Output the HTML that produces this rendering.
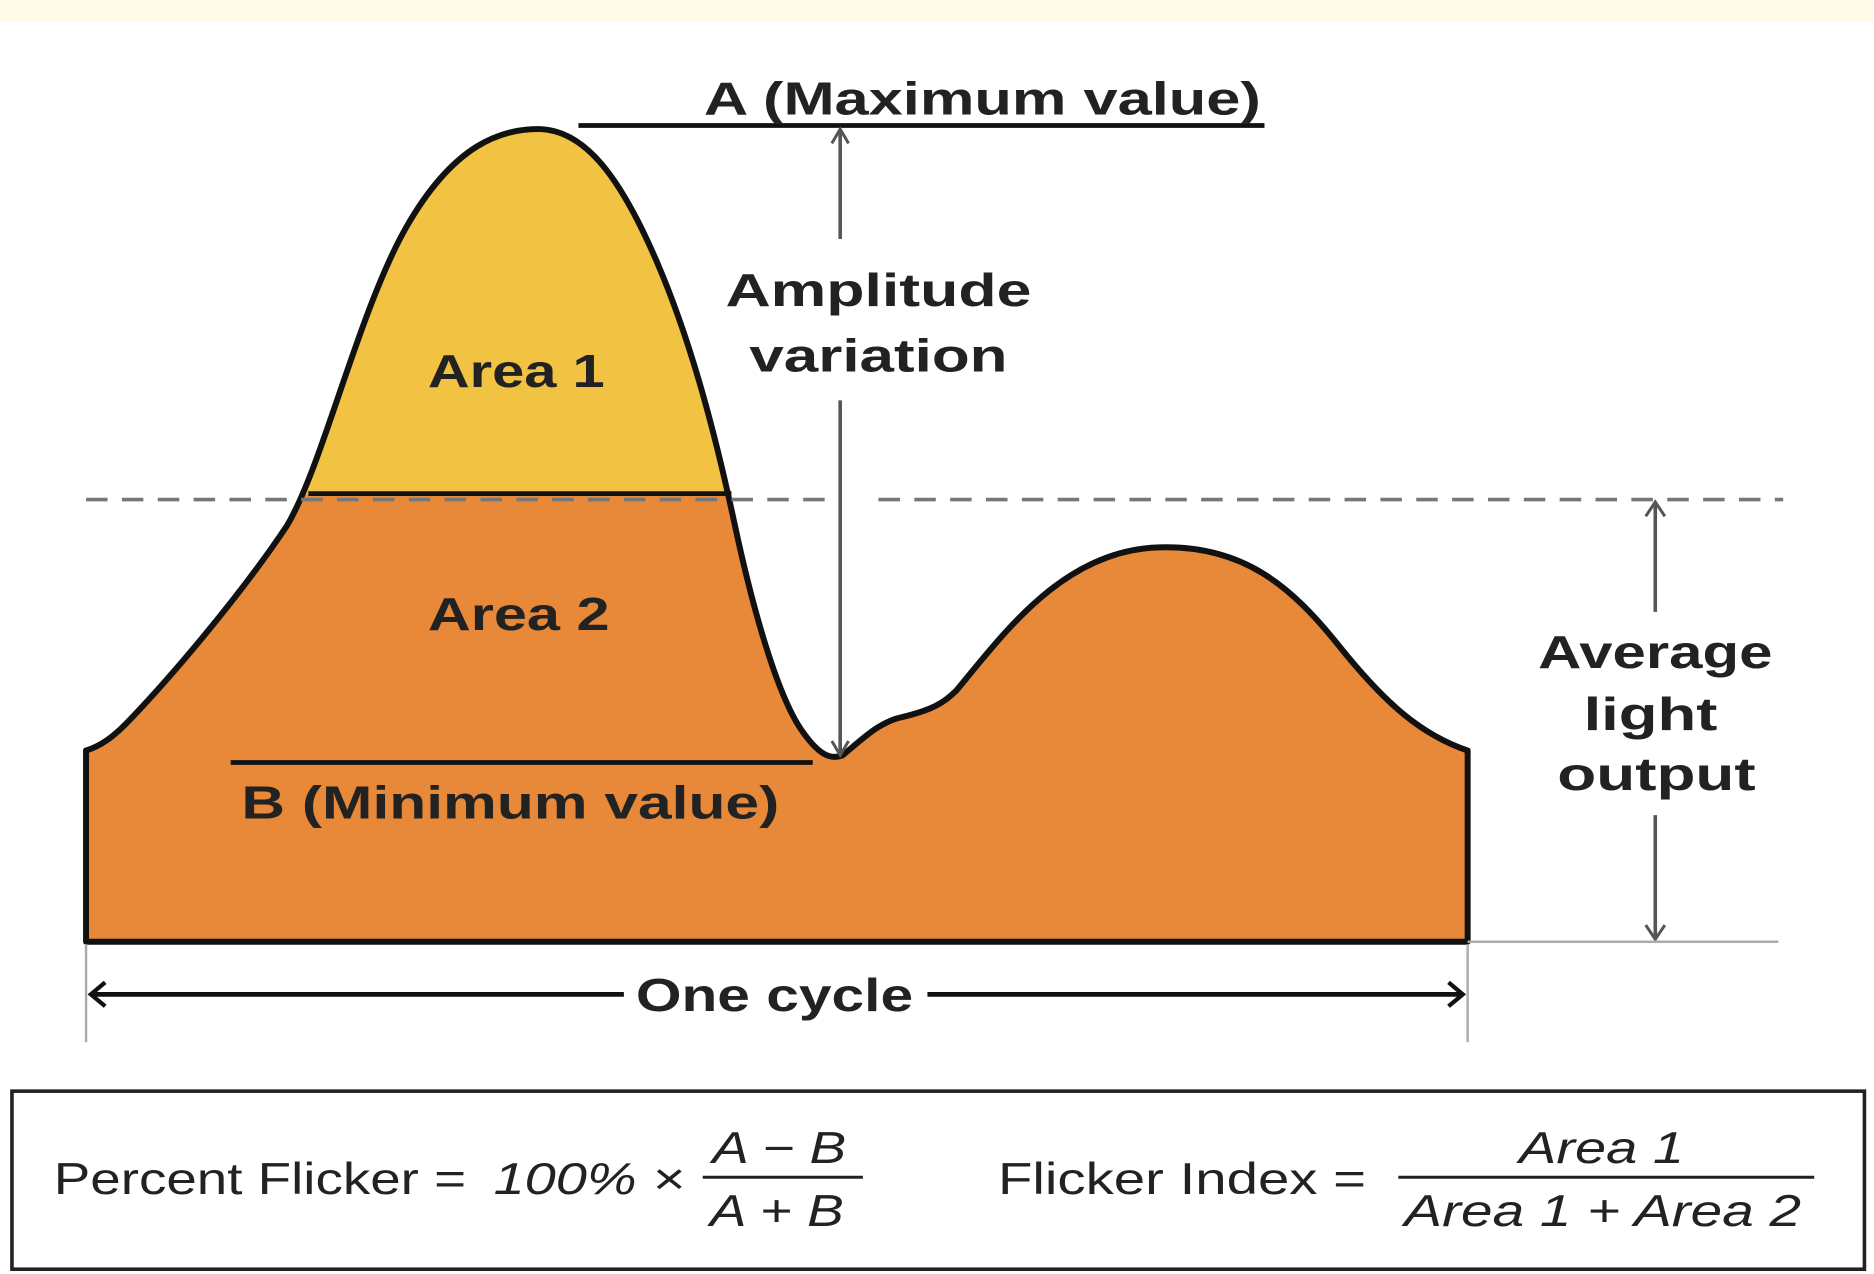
<!DOCTYPE html>
<html><head><meta charset="utf-8"><style>
html,body{margin:0;padding:0;background:#fff;}
svg{display:block;}
text{font-family:"Liberation Sans",sans-serif;fill:#222;}
.b{font-weight:bold;font-size:39px;}
.f{font-size:37px;}
</style></head><body>
<svg width="1874" height="1274" viewBox="0 0 1568 1066" preserveAspectRatio="none">
<rect x="0" y="0" width="1568" height="18" fill="#fffbe8"/>
<defs>
<clipPath id="top"><rect x="0" y="0" width="1568" height="414"/></clipPath>
</defs>
<path d="M72,628 C85,624 95,616 105,606 C140,570 200,500 240,440 C270,390 300,260 340,190 C380,120 420,108 450,108 C490,108 520,150 550,220 C580,290 600,370 615,440 C630,510 650,580 670,610 C685,632 695,636 705,632 C720,620 735,604 755,600 C780,594 790,588 800,578 C840,530 890,460 970,458 C1040,456 1080,490 1120,540 C1160,590 1190,615 1228,628 L1228,788 L72,788 Z" fill="#e8893a"/>
<g clip-path="url(#top)">
<path d="M72,628 C85,624 95,616 105,606 C140,570 200,500 240,440 C270,390 300,260 340,190 C380,120 420,108 450,108 C490,108 520,150 550,220 C580,290 600,370 615,440 C630,510 650,580 670,610 L670,788 L72,788 Z" fill="#f2c242"/>
</g>
<path d="M72,628 C85,624 95,616 105,606 C140,570 200,500 240,440 C270,390 300,260 340,190 C380,120 420,108 450,108 C490,108 520,150 550,220 C580,290 600,370 615,440 C630,510 650,580 670,610 C685,632 695,636 705,632 C720,620 735,604 755,600 C780,594 790,588 800,578 C840,530 890,460 970,458 C1040,456 1080,490 1120,540 C1160,590 1190,615 1228,628 L1228,788 L72,788 Z" fill="none" stroke="#111" stroke-width="5" stroke-linejoin="round"/>
<line x1="258" y1="413" x2="612" y2="413" stroke="#111" stroke-width="4"/>
<line x1="72" y1="418" x2="690" y2="418" stroke="#777" stroke-width="3" stroke-dasharray="18,12"/>
<line x1="735" y1="418" x2="1492" y2="418" stroke="#777" stroke-width="3" stroke-dasharray="18,12"/>
<line x1="484" y1="105" x2="1058" y2="105" stroke="#111" stroke-width="4"/>
<text class="b" x="822" y="96" text-anchor="middle" textLength="466" lengthAdjust="spacingAndGlyphs">A (Maximum value)</text>
<line x1="703" y1="110" x2="703" y2="200" stroke="#555" stroke-width="3"/>
<line x1="703" y1="335" x2="703" y2="630" stroke="#555" stroke-width="3"/>
<path d="M696,120 L703,108 L710,120 M696,620 L703,632 L710,620" fill="none" stroke="#555" stroke-width="2.5"/>
<text class="b" x="735" y="256" text-anchor="middle" textLength="256" lengthAdjust="spacingAndGlyphs">Amplitude</text>
<text class="b" x="735" y="311" text-anchor="middle" textLength="216" lengthAdjust="spacingAndGlyphs">variation</text>
<text class="b" x="432" y="324" text-anchor="middle" textLength="148" lengthAdjust="spacingAndGlyphs">Area 1</text>
<text class="b" x="434" y="527" text-anchor="middle" textLength="152" lengthAdjust="spacingAndGlyphs">Area 2</text>
<line x1="193" y1="638" x2="680" y2="638" stroke="#111" stroke-width="4"/>
<text class="b" x="202" y="685" textLength="450" lengthAdjust="spacingAndGlyphs">B (Minimum value)</text>
<line x1="1385" y1="422" x2="1385" y2="512" stroke="#555" stroke-width="3"/>
<line x1="1385" y1="682" x2="1385" y2="786" stroke="#555" stroke-width="3"/>
<path d="M1377,432 L1385,420 L1393,432 M1377,774 L1385,786 L1393,774" fill="none" stroke="#555" stroke-width="2.5"/>
<text class="b" x="1385" y="559" text-anchor="middle" textLength="196" lengthAdjust="spacingAndGlyphs">Average</text>
<text class="b" x="1381" y="611" text-anchor="middle" textLength="112" lengthAdjust="spacingAndGlyphs">light</text>
<text class="b" x="1386" y="661" text-anchor="middle" textLength="166" lengthAdjust="spacingAndGlyphs">output</text>
<line x1="1228" y1="788" x2="1488" y2="788" stroke="#aaa" stroke-width="2"/>
<line x1="72" y1="790" x2="72" y2="872" stroke="#aaa" stroke-width="2"/>
<line x1="1228" y1="790" x2="1228" y2="872" stroke="#aaa" stroke-width="2"/>
<line x1="76" y1="832" x2="522" y2="832" stroke="#111" stroke-width="4"/>
<line x1="776" y1="832" x2="1224" y2="832" stroke="#111" stroke-width="4"/>
<path d="M88,822 L76,832 L88,842 M1212,822 L1224,832 L1212,842" fill="none" stroke="#111" stroke-width="3.5"/>
<text class="b" x="648" y="846" text-anchor="middle" textLength="232" lengthAdjust="spacingAndGlyphs">One cycle</text>
<rect x="10" y="913" width="1550" height="149" fill="none" stroke="#222" stroke-width="3"/>
<text class="f" x="45" y="999" textLength="345" lengthAdjust="spacingAndGlyphs">Percent Flicker =</text>
<text class="f" x="413" y="999" font-style="italic" textLength="160" lengthAdjust="spacingAndGlyphs">100% ×</text>
<line x1="588" y1="985" x2="722" y2="985" stroke="#222" stroke-width="2.5"/>
<text class="f" x="652" y="973" text-anchor="middle" font-style="italic" textLength="112" lengthAdjust="spacingAndGlyphs">A − B</text>
<text class="f" x="650" y="1026" text-anchor="middle" font-style="italic" textLength="112" lengthAdjust="spacingAndGlyphs">A + B</text>
<text class="f" x="835" y="999" textLength="308" lengthAdjust="spacingAndGlyphs">Flicker Index =</text>
<line x1="1170" y1="985" x2="1518" y2="985" stroke="#222" stroke-width="2.5"/>
<text class="f" x="1340" y="973" text-anchor="middle" font-style="italic" textLength="138" lengthAdjust="spacingAndGlyphs">Area 1</text>
<text class="f" x="1341" y="1026" text-anchor="middle" font-style="italic" textLength="332" lengthAdjust="spacingAndGlyphs">Area 1 + Area 2</text>
</svg>
</body></html>
